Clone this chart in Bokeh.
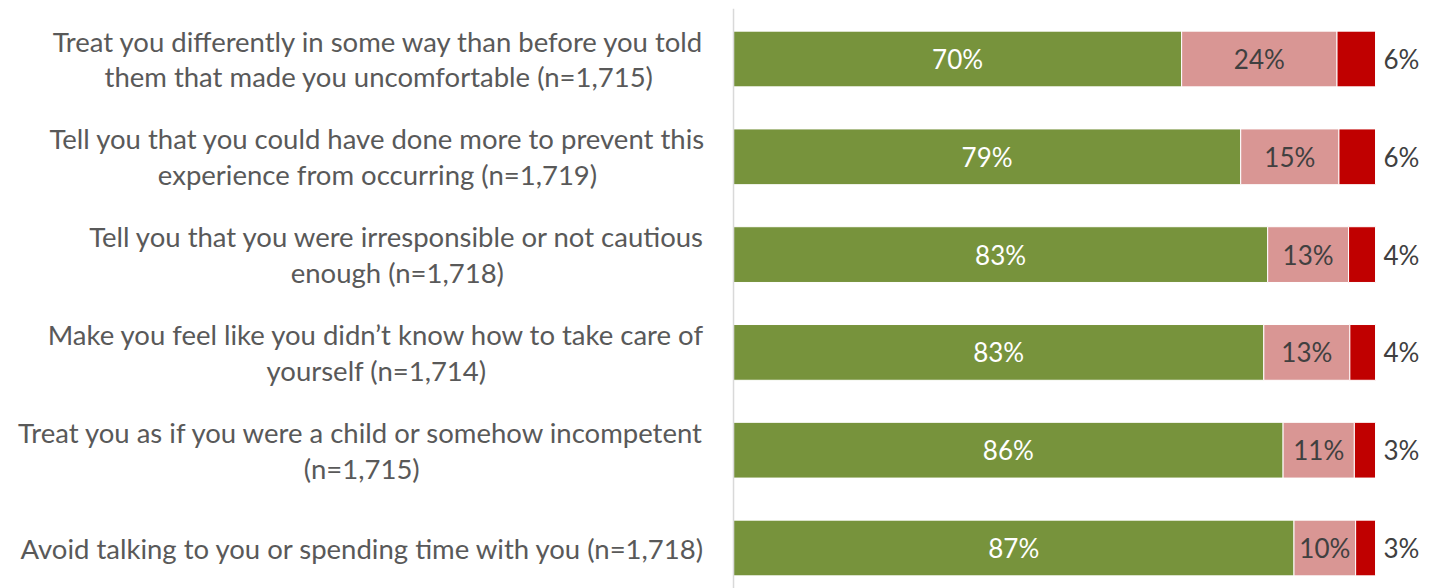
from bokeh.plotting import figure
from bokeh.models import ColumnDataSource, Range1d, Span
from bokeh.core.properties import value
from bokeh.embed import file_html
from bokeh.resources import INLINE

categories = [
    "Treat you differently in some way than before you told\nthem that made you uncomfortable (n=1,715)",
    "Tell you that you could have done more to prevent this\nexperience from occurring (n=1,719)",
    "Tell you that you were irresponsible or not cautious\nenough (n=1,718)",
    "Make you feel like you didn\u2019t know how to take care of\nyourself (n=1,714)",
    "Treat you as if you were a child or somehow incompetent\n(n=1,715)",
    "Avoid talking to you or spending time with you (n=1,718)",
]
never = [69.8, 79.0, 83.2, 82.6, 85.6, 87.3]
sometimes = [24.2, 15.3, 12.6, 13.4, 11.1, 9.6]
often = [6.0, 5.7, 4.2, 4.0, 3.3, 3.1]

n = len(categories)
ypos = [n - 1 - i for i in range(n)]

FONT = "Lato"
GREEN = "#77933C"
PINK = "#D99694"
RED = "#C00000"

src = ColumnDataSource(dict(
    y=ypos,
    cat=categories,
    g0=[0] * n,
    g1=never,
    p1=[a + b for a, b in zip(never, sometimes)],
    r1=[a + b + c for a, b, c in zip(never, sometimes, often)],
    gmid=[a / 2 for a in never],
    pmid=[a + b / 2 for a, b in zip(never, sometimes)],
    glab=[f"{round(v)}%" for v in never],
    plab=[f"{round(v)}%" for v in sometimes],
    rlab=[f"{round(v)}%" for v in often],
))

# frame: 580 px tall, 97.8 px per category; top category centre 50 px below frame top
ppu = 97.8
y_end = 5 + 50.5 / ppu
y_start = y_end - 580 / ppu

p = figure(width=1428, height=588, output_backend="svg", toolbar_location=None,
           x_range=Range1d(-112.93, 108.25), y_range=Range1d(y_start, y_end),
           min_border_left=8, min_border_right=0, min_border_top=8, min_border_bottom=0)
p.outline_line_color = None
p.xaxis.visible = False
p.yaxis.visible = False
p.grid.visible = False

h = 0.57
p.hbar(y="y", left="g0", right="g1", height=h, source=src, fill_color=GREEN,
       line_color="white", line_width=1)
p.hbar(y="y", left="g1", right="p1", height=h, source=src, fill_color=PINK,
       line_color="white", line_width=1)
p.hbar(y="y", left="p1", right="r1", height=h, source=src, fill_color=RED,
       line_color="white", line_width=1)

p.add_layout(Span(location=0, dimension="height", line_color="#D9D9D9", line_width=1.5))

p.text(x="gmid", y="y", text="glab", source=src, text_color="white",
       text_font=value(FONT), text_font_size="26px", text_align="center", text_baseline="middle")
p.text(x="pmid", y="y", text="plab", source=src, text_color="#404040",
       text_font=value(FONT), text_font_size="26px", text_align="center", text_baseline="middle")
p.text(x="r1", y="y", text="rlab", source=src, text_color="#404040", x_offset=8,
       text_font=value(FONT), text_font_size="26px", text_align="left", text_baseline="middle")

p.text(x="g0", y="y", text="cat", source=src, text_color="#595959", x_offset=-28,
       text_font=value(FONT), text_font_size="27.5px", text_align="center", text_baseline="middle",
       anchor="center_right", text_line_height=1.09)

open("out.html", "w").write(file_html(p, INLINE))
